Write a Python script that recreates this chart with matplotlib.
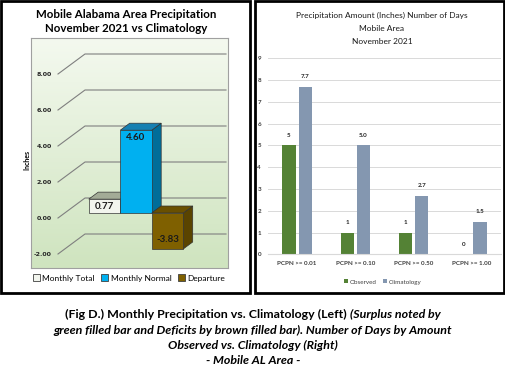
import matplotlib.pyplot as plt
import numpy as np
from matplotlib.patches import Polygon, Rectangle, Patch
from matplotlib.colors import LinearSegmentedColormap

W, H = 506, 369

# left chart: monthly precip vs climatology (inches)
left_cats = ["Monthly Total", "Monthly Normal", "Departure"]
left_vals = [0.77, 4.60, -3.83]
left_ticks = [-2, 0, 2, 4, 6, 8]

# right chart: number of days by amount
right_cats = ["PCPN >= 0.01", "PCPN >= 0.10", "PCPN >= 0.50", "PCPN >= 1.00"]
observed = [5, 1, 1, 0]
climo = [7.7, 5.0, 2.7, 1.5]

plt.rcParams['font.family'] = ['Lato', 'DejaVu Sans']

fig = plt.figure(figsize=(W / 100, H / 100), dpi=100)
r = fig.canvas.get_renderer()


def box(x0, y0, x1, y1):
    return [x0 / W, 1 - y1 / H, (x1 - x0) / W, (y1 - y0) / H]


def fit(texts, ref, target):
    # scale a group of texts so that the reference line has the target pixel width
    fs = ref.get_fontsize() * target / ref.get_window_extent(r).width
    for t in texts:
        t.set_fontsize(fs)
    return fs


# pixel overlay for borders and free text
bg = fig.add_axes([0, 0, 1, 1])
bg.set_xlim(0, W)
bg.set_ylim(H, 0)
bg.axis('off')
bg.add_patch(Rectangle((1.5, 0.5), 249, 292, fill=False, ec='black', lw=2))
bg.add_patch(Rectangle((255.5, 0.5), 249, 292, fill=False, ec='black', lw=2))

# ---------------- left chart (fake 3D) ----------------
lt1 = bg.text(126, 15, "Mobile Alabama Area Precipitation", ha='center', va='center',
              fontsize=8, fontweight='bold')
lt2 = bg.text(126, 29, "November 2021 vs Climatology", ha='center', va='center',
              fontsize=8, fontweight='bold')
fit([lt1, lt2], lt1, 181)
bg.text(27, 160, "Inches", rotation=90, ha='center', va='center',
        fontsize=5, fontweight='bold')

ax = fig.add_axes(box(31, 38, 228, 268))
ymin, ymax = -50 / 18, 180 / 18
ax.set_xlim(31, 228)
ax.set_ylim(ymin, ymax)
ax.set_xticks([])
ax.set_yticks([])
for s in ax.spines.values():
    s.set_color('#a0a0a0')
    s.set_linewidth(0.8)

grad_cmap = LinearSegmentedColormap.from_list('g', ['#cfe4bf', '#f4f9ef'])
ax.imshow(np.linspace(0, 1, 100).reshape(-1, 1), extent=[31, 228, ymin, ymax],
          aspect='auto', cmap=grad_cmap, origin='lower', zorder=0)

DX, DY = 27, 20 / 18


def proj(x, v, f):
    return (x + DX * f, v + DY * f)


for t in left_ticks:
    pts = [proj(58, t, 0), proj(58, t, 1), (226, t + DY)]
    ax.plot(*zip(*pts), color='#7f7f7f', lw=0.8, zorder=1)
    ax.text(52, t, f"{t:.2f}", ha='right', va='center', fontsize=4.5,
            fontweight='bold', color='#262626', family='DejaVu Sans')

face_cols = [('#f2f5ee', '#a3ab97', '#8c9480'),
             ('#00b0f0', '#1680b2', '#006d99'),
             ('#7f6000', '#6a5000', '#5a4400')]
f0, fd = 0.25, 0.35
bw = 31.5
for i, (cat, val) in enumerate(zip(left_cats, left_vals)):
    xl = 82 + bw * i
    xr = xl + bw
    lo = max(min(0, val), left_ticks[0])
    hi = max(0, val)
    front, top, side = face_cols[i]
    f1 = f0 + fd
    ax.add_patch(Polygon([proj(xr, lo, f0), proj(xr, hi, f0), proj(xr, hi, f1), proj(xr, lo, f1)],
                         fc=side, ec='#333333', lw=0.5, zorder=2 + i))
    ax.add_patch(Polygon([proj(xl, hi, f0), proj(xr, hi, f0), proj(xr, hi, f1), proj(xl, hi, f1)],
                         fc=top, ec='#333333', lw=0.5, zorder=2 + i))
    ax.add_patch(Polygon([proj(xl, lo, f0), proj(xr, lo, f0), proj(xr, hi, f0), proj(xl, hi, f0)],
                         fc=front, ec='#333333', lw=0.5, zorder=2 + i))
    if val > 0 and hi < 2:
        ly = hi / 2
    elif val > 0:
        ly = hi - 0.4
    else:
        ly = lo + 0.5
    lx, lv = proj((xl + xr) / 2, ly, f0)
    ax.text(lx, lv, f"{val:.2f}", ha='center', va='center', fontsize=7,
            fontweight='bold', color='#1a1a1a', zorder=10)

left_handles = [Patch(fc=c[0], ec='#404040', lw=0.6) for c in face_cols]
fig.legend(left_handles, left_cats, ncol=3, loc='center',
           bbox_to_anchor=(129 / W, 1 - 278 / H), fontsize=6, frameon=False,
           handlelength=0.8, handleheight=0.8, columnspacing=0.8, handletextpad=0.3)

# ---------------- right chart ----------------
rts = [bg.text(382, 15 + 13.5 * k, line, ha='center', va='center', fontsize=7,
               color='#1a1a1a')
       for k, line in enumerate(["Precipitation Amount (Inches) Number of Days",
                                 "Mobile Area", "November 2021"])]
fit(rts, rts[0], 172)

ax2 = fig.add_axes(box(268, 58.3, 501, 254.3))
x = np.arange(len(right_cats))
w = 0.23
b1 = ax2.bar(x - 0.14, observed, w, color='#548235', zorder=2, label='Observed')
b2 = ax2.bar(x + 0.14, climo, w, color='#8497b0', zorder=2, label='Climatology')
for xi, v in zip(x - 0.14, observed):
    ax2.text(xi, v + 0.35, f"{v}", ha='center', va='bottom', fontsize=4.5,
             fontweight='bold', color='#262626')
for xi, v in zip(x + 0.14, climo):
    ax2.text(xi, v + 0.35, f"{v:.1f}", ha='center', va='bottom', fontsize=4.5,
             fontweight='bold', color='#262626')
ax2.set_xlim(-0.5, 3.5)
ax2.set_ylim(0, 9)
ax2.set_yticks(range(10))
ax2.set_xticks(x)
ax2.set_xticklabels(right_cats)
ax2.tick_params(length=0, labelsize=4.5, labelcolor='#404040', pad=5)
for lab in ax2.get_xticklabels() + ax2.get_yticklabels():
    lab.set_fontweight('bold')
ax2.grid(axis='y', color='#d9d9d9', lw=0.7, zorder=0)
for s in ['top', 'right', 'left']:
    ax2.spines[s].set_visible(False)
ax2.spines['bottom'].set_color('#d9d9d9')
fig.legend([b1, b2], ['Observed', 'Climatology'], ncol=2, loc='center',
           bbox_to_anchor=(383 / W, 1 - 282 / H), fontsize=4.5, frameon=False,
           handlelength=0.6, handleheight=0.6, columnspacing=1.0, handletextpad=0.3,
           labelcolor='#404040')

# ---------------- caption ----------------
cap_lines = [(330, "green filled bar and Deficits by brown filled bar). Number of Days by Amount"),
             (345, "Observed vs. Climatology (Right)"),
             (360, "- Mobile AL Area -")]
cts = [bg.text(253, yy, line, ha='center', va='center', fontsize=8,
               fontweight='bold', style='italic') for yy, line in cap_lines]
part1 = "(Fig D.) Monthly Precipitation vs. Climatology (Left) "
part2 = "(Surplus noted by"
t1 = bg.text(0, 314, part1, ha='left', va='center', fontsize=8, fontweight='bold')
t2 = bg.text(0, 314, part2, ha='left', va='center', fontsize=8, fontweight='bold',
             style='italic')
fit(cts + [t1, t2], cts[0], 397)
w1 = t1.get_window_extent(r).width
w2 = t2.get_window_extent(r).width
start = 253 - (w1 + w2) / 2
t1.set_x(start)
t2.set_x(start + w1)

fig.savefig("out.png", dpi=100)
